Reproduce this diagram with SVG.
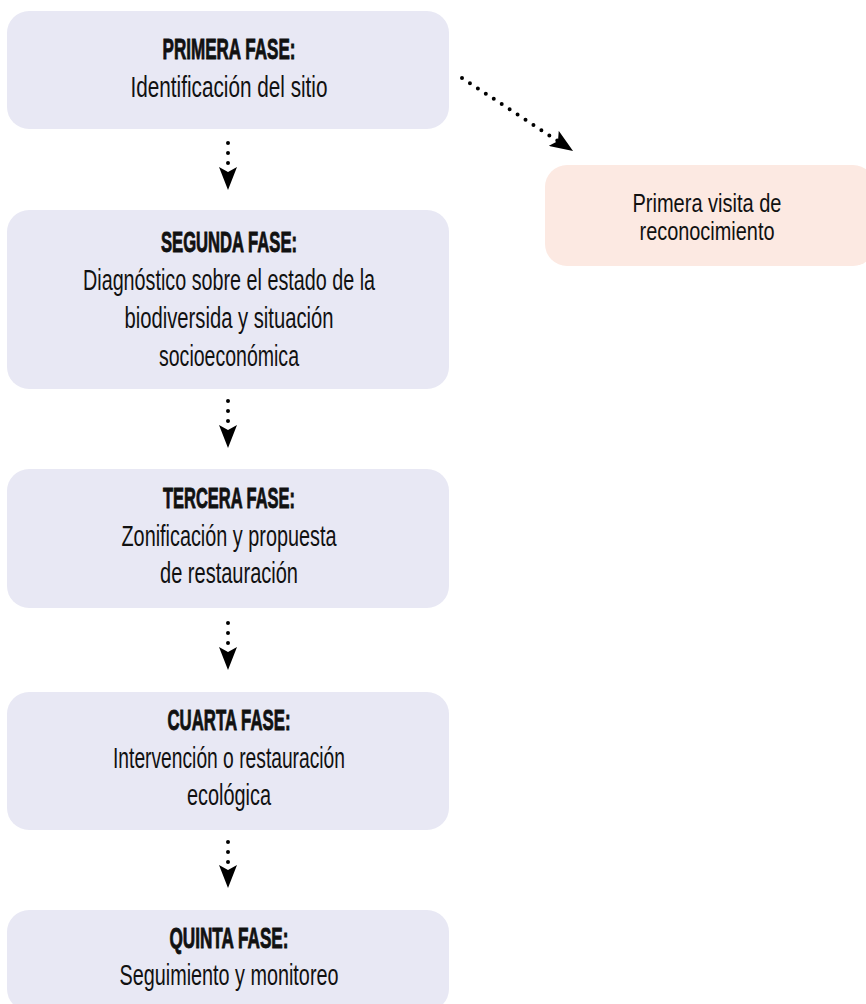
<svg xmlns="http://www.w3.org/2000/svg" width="866" height="1004" viewBox="0 0 866 1004">
<style>
.phase rect{fill:#e8e8f4}
.side rect{fill:#fce9e2}
text{font-family:"Liberation Sans Narrow","Liberation Sans",Arial,sans-serif;fill:#111;text-anchor:middle}
.t{font-weight:bold;font-size:29px;stroke:#111;stroke-width:0.9px}
.b{font-size:29px}
.s{font-size:26px}
.link{fill:none;stroke:#000;stroke-width:4;stroke-linecap:round;stroke-dasharray:0 10}
</style>
<defs>
<marker id="ah" markerUnits="userSpaceOnUse" viewBox="0 0 23 18" markerWidth="23" markerHeight="18" refX="5" refY="9" orient="auto">
<path d="M0,0 L23,9 L0,18 L5,9 Z" fill="#000"/>
</marker>
</defs>
<rect width="866" height="1004" fill="#fff"/>
<g id="connectors">
<path class="link" d="M228,143 V172" marker-end="url(#ah)"/>
<path class="link" d="M228,401 V430" marker-end="url(#ah)"/>
<path class="link" d="M228,623 V652" marker-end="url(#ah)"/>
<path class="link" d="M228,842 V870" marker-end="url(#ah)"/>
<path class="link" style="stroke-dasharray:0 9.5" d="M462,78 L558,141.1" marker-end="url(#ah)"/>
</g>
<g id="fase1" class="phase">
<rect x="7" y="11" width="442" height="118" rx="22"/>
<text class="t" x="229" y="59" textLength="133" lengthAdjust="spacingAndGlyphs">PRIMERA FASE:</text>
<text class="b" x="229" y="97" textLength="197" lengthAdjust="spacingAndGlyphs">Identificación del sitio</text>
</g>
<g id="visita" class="side">
<rect x="545" y="165" width="330" height="101" rx="22"/>
<text class="s" x="707" y="212" textLength="149" lengthAdjust="spacingAndGlyphs">Primera visita de</text>
<text class="s" x="707" y="240" textLength="135" lengthAdjust="spacingAndGlyphs">reconocimiento</text>
</g>
<g id="fase2" class="phase">
<rect x="7" y="210" width="442" height="179" rx="22"/>
<text class="t" x="229" y="252" textLength="136" lengthAdjust="spacingAndGlyphs">SEGUNDA FASE:</text>
<text class="b" x="229" y="290" textLength="292" lengthAdjust="spacingAndGlyphs">Diagnóstico sobre el estado de la</text>
<text class="b" x="229" y="328" textLength="209" lengthAdjust="spacingAndGlyphs">biodiversida y situación</text>
<text class="b" x="229" y="366" textLength="140" lengthAdjust="spacingAndGlyphs">socioeconómica</text>
</g>
<g id="fase3" class="phase">
<rect x="7" y="469" width="442" height="139" rx="22"/>
<text class="t" x="229" y="508" textLength="132" lengthAdjust="spacingAndGlyphs">TERCERA FASE:</text>
<text class="b" x="229" y="546" textLength="215" lengthAdjust="spacingAndGlyphs">Zonificación y propuesta</text>
<text class="b" x="229" y="583" textLength="138" lengthAdjust="spacingAndGlyphs">de restauración</text>
</g>
<g id="fase4" class="phase">
<rect x="7" y="692" width="442" height="138" rx="22"/>
<text class="t" x="229" y="730" textLength="123" lengthAdjust="spacingAndGlyphs">CUARTA FASE:</text>
<text class="b" x="229" y="768" textLength="232" lengthAdjust="spacingAndGlyphs">Intervención o restauración</text>
<text class="b" x="229" y="805" textLength="84" lengthAdjust="spacingAndGlyphs">ecológica</text>
</g>
<g id="fase5" class="phase">
<rect x="7" y="910" width="442" height="101" rx="22"/>
<text class="t" x="229" y="948" textLength="119" lengthAdjust="spacingAndGlyphs">QUINTA FASE:</text>
<text class="b" x="229" y="985" textLength="219" lengthAdjust="spacingAndGlyphs">Seguimiento y monitoreo</text>
</g>
</svg>
